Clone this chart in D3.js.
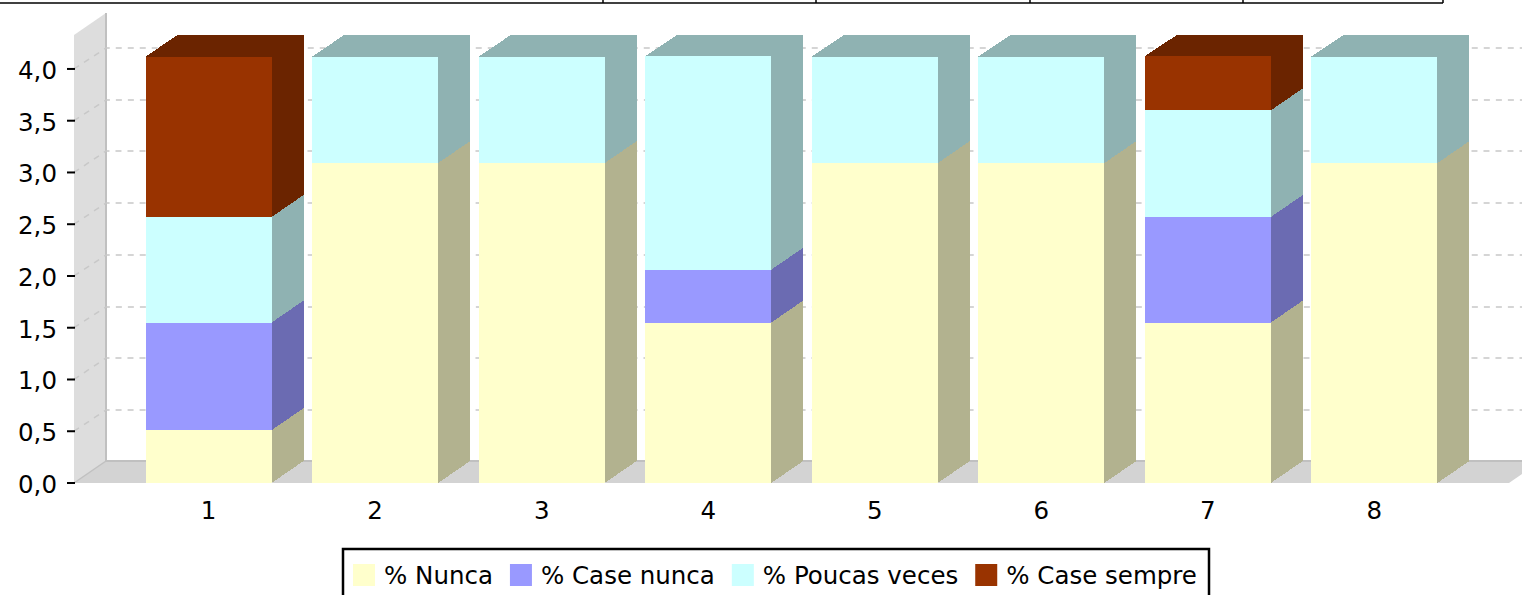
<!DOCTYPE html>
<html>
<head>
<meta charset="utf-8">
<script src="https://cdnjs.cloudflare.com/ajax/libs/d3/7.8.5/d3.min.js"></script>
<style>
  html, body { margin: 0; padding: 0; background: #fff; overflow: hidden; }
  text { font-family: "DejaVu Sans", sans-serif; fill: #000; }
</style>
</head>
<body>
<div id="chart"></div>
<script>
// values
var categories = ["1", "2", "3", "4", "5", "6", "7", "8"]
var seriesNames = ["% Nunca", "% Case nunca", "% Poucas veces", "% Case sempre"]
var nunca = [0.51, 3.09, 3.09, 1.55, 3.09, 3.09, 1.55, 3.09]
var caseNunca = [1.04, 0, 0, 0.51, 0, 0, 1.02, 0]
var poucasVeces = [1.02, 1.03, 1.03, 2.065, 1.03, 1.03, 1.03, 1.03]
var caseSempre = [1.55, 0, 0, 0, 0, 0, 0.525, 0]
var yTicks = [0, 0.5, 1, 1.5, 2, 2.5, 3, 3.5, 4]
var topRuleTicks = [603, 816, 1030, 1243, 1443]

var colors = ["#FFFFCC", "#9999FF", "#CCFFFF", "#993300"]
var sideColors = ["#B2B28F", "#6B6BB2", "#8FB2B2", "#6B2400"]

var width = 1522
var height = 595
var depthX = 32
var depthY = 22
var left = 74
var right = 1509
var bottom = 483
var top3d = 35
var fontSize = "24.5px"

var svg = d3.select("#chart").append("svg")
  .attr("width", width)
  .attr("height", height)
  .style("display", "block")

// bit of the table that sits above the chart
svg.append("line").attr("x1", 0).attr("x2", 1443).attr("y1", 3).attr("y2", 3)
  .attr("stroke", "#000").attr("stroke-width", 1.5)
svg.selectAll(".topTick").data(topRuleTicks).enter().append("line")
  .attr("x1", function(d) { return d }).attr("x2", function(d) { return d })
  .attr("y1", 0).attr("y2", 3)
  .attr("stroke", "#000").attr("stroke-width", 1.5)

var x = d3.scaleBand().domain(categories).range([left, right])
  .paddingInner(0.2437).paddingOuter(0.43)
var y = d3.scaleLinear().domain([0, 4.328]).range([bottom, top3d])

function poly(points) {
  return "M" + points.map(function(p) { return p.join(",") }).join("L") + "Z"
}

// back wall and floor
svg.append("path")
  .attr("d", poly([[left, bottom], [left, top3d], [left + depthX, top3d - depthY], [left + depthX, bottom - depthY]]))
  .attr("fill", "#DDDDDD")
svg.append("path")
  .attr("d", poly([[left, bottom], [left + depthX, bottom - depthY], [right + depthX, bottom - depthY], [right, bottom]]))
  .attr("fill", "#D3D3D3")
svg.append("line")
  .attr("x1", left + depthX).attr("x2", left + depthX)
  .attr("y1", top3d - depthY).attr("y2", bottom - depthY)
  .attr("stroke", "#C0C0C0").attr("stroke-width", 2)
svg.append("line")
  .attr("x1", left + depthX).attr("x2", right + depthX)
  .attr("y1", bottom - depthY).attr("y2", bottom - depthY)
  .attr("stroke", "#C0C0C0").attr("stroke-width", 2)
svg.append("line")
  .attr("x1", left).attr("x2", left + depthX)
  .attr("y1", bottom).attr("y2", bottom - depthY)
  .attr("stroke", "#C0C0C0").attr("stroke-width", 1.5)

// grid, runs over the wall and along the back
svg.selectAll(".grid").data(yTicks.slice(1)).enter().append("path")
  .attr("d", function(d) {
    var back = Math.round(y(d) - depthY + 1)
    return "M" + left + "," + y(d) + "L" + (left + depthX) + "," + back + "L" + width + "," + back
  })
  .attr("fill", "none")
  .attr("stroke", "#C8C8C8")
  .attr("stroke-width", 1.5)
  .attr("stroke-dasharray", "6,6")

// stacked bars
var stack = d3.stack().keys(d3.range(4))
  .value(function(d, k) { return [nunca, caseNunca, poucasVeces, caseSempre][k][d] })
var layers = stack(d3.range(categories.length))

// back edge of a bar never goes above the top of the 3d box
function backY(v) {
  return Math.max(y(v) - depthY, top3d)
}

var bw = x.bandwidth()
categories.forEach(function(cat, i) {
  var g = svg.append("g").attr("shape-rendering", "crispEdges")
  var x0 = x(cat)
  var x1 = x0 + bw
  var used = layers.filter(function(l) { return l[i][1] > l[i][0] })
  used.forEach(function(l) {
    var a = y(l[i][0])
    var b = y(l[i][1])
    g.append("path")
      .attr("d", poly([[x1, a], [x1 + depthX, backY(l[i][0])], [x1 + depthX, backY(l[i][1])], [x1, b]]))
      .attr("fill", sideColors[l.key])
    g.append("rect")
      .attr("x", x0).attr("y", b).attr("width", bw).attr("height", a - b)
      .attr("fill", colors[l.key])
  })
  var last = used[used.length - 1]
  var t = y(last[i][1])
  g.append("path")
    .attr("d", poly([[x0, t], [x0 + depthX, backY(last[i][1])], [x1 + depthX, backY(last[i][1])], [x1, t]]))
    .attr("fill", sideColors[last.key])
})

svg.selectAll(".yTick").data(yTicks).enter().append("line")
  .attr("x1", 67).attr("x2", left + 1)
  .attr("y1", function(d) { return y(d) }).attr("y2", function(d) { return y(d) })
  .attr("stroke", "#000").attr("stroke-width", 2)

svg.selectAll(".yLabel").data(yTicks).enter().append("text")
  .attr("x", 57)
  .attr("y", function(d) { return y(d) + 10 })
  .attr("text-anchor", "end")
  .style("font-size", fontSize)
  .text(function(d) { return d.toFixed(1).replace(".", ",") })

svg.selectAll(".xLabel").data(categories).enter().append("text")
  .attr("x", function(d) { return x(d) + bw / 2 })
  .attr("y", 519)
  .attr("text-anchor", "middle")
  .style("font-size", fontSize)
  .text(function(d) { return d })

// legend
var legendLeft = 343
var legendRight = 1209
var legendTop = 549
svg.append("rect")
  .attr("x", legendLeft).attr("y", legendTop)
  .attr("width", legendRight - legendLeft).attr("height", 70)
  .attr("fill", "#fff").attr("stroke", "#000").attr("stroke-width", 2.5)

var lx = legendLeft + 10
seriesNames.forEach(function(name, i) {
  svg.append("rect")
    .attr("x", lx).attr("y", 564).attr("width", 22).attr("height", 22)
    .attr("fill", colors[i])
  var t = svg.append("text")
    .attr("x", lx + 31).attr("y", 584)
    .style("font-size", fontSize)
    .text(name)
  lx += 31 + t.node().getComputedTextLength() + 17
})
</script>
</body>
</html>
